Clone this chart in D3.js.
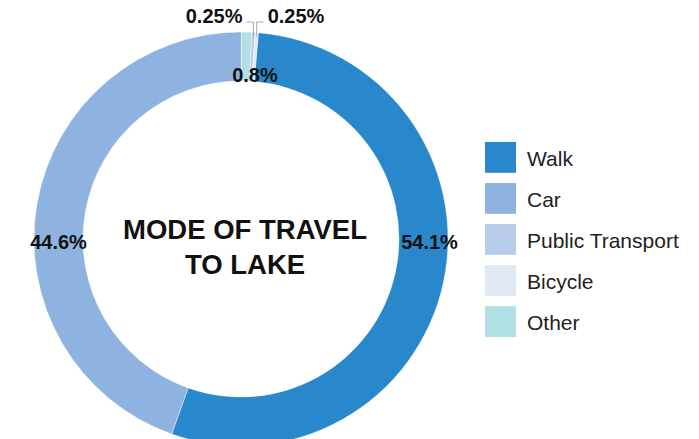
<!DOCTYPE html>
<html>
<head>
<meta charset="utf-8">
<script src="https://cdn.jsdelivr.net/npm/d3@7"></script>
<style>
  html, body { margin: 0; padding: 0; background: #fff; }
  svg { display: block; font-family: "Liberation Sans", Arial, Helvetica, sans-serif; }
</style>
</head>
<body>
<svg id="chart" width="699" height="439"></svg>
<script>
const categories = ["Walk", "Car", "Public Transport", "Bicycle", "Other"];
const values = [54.1, 44.6, 0.25, 0.25, 0.8];
const labels = ["54.1%", "44.6%", "0.25%", "0.25%", "0.8%"];
const colors = ["#2888cb", "#8fb3e0", "#b7cbea", "#e2e9f6", "#b0e0e3"];
const titleLines = ["MODE OF TRAVEL", "TO LAKE"];

const svg = d3.select("#chart");
const cx = 241, cy = 239, R = 207, r = 158;
const startA = 4.8 * Math.PI / 180;

const data = categories.map((c, i) => ({ cat: c, value: values[i], label: labels[i], color: colors[i] }));
const pie = d3.pie().value(d => d.value).sort((a, b) => b.value - a.value)
  .startAngle(startA).endAngle(startA + 2 * Math.PI);
const arcs = pie(data);
const arc = d3.arc().innerRadius(r).outerRadius(R);

const g = svg.append("g").attr("transform", `translate(${cx},${cy})`);
g.selectAll("path.slice").data(arcs).enter().append("path")
  .attr("class", "slice")
  .attr("d", arc)
  .attr("fill", d => d.data.color)
  .attr("stroke", "#fff").attr("stroke-width", 0.4);

const labelSize = 20;
const mid = (r + R) / 2 + 3;
function contains(d, ang) {
  const s = d.startAngle, e = d.endAngle;
  for (let k = -1; k <= 1; k++) { const t = ang + k * 2 * Math.PI; if (t >= s && t <= e) return true; }
  return false;
}
const small = arcs.filter(d => d.data.value < 0.5).sort((a, b) => a.startAngle - b.startAngle);
arcs.forEach(d => {
  if (d.data.value >= 10) {
    let ang = (d.startAngle + d.endAngle) / 2;
    if (contains(d, Math.PI / 2)) ang = Math.PI / 2;
    else if (contains(d, 3 * Math.PI / 2)) ang = 3 * Math.PI / 2;
    const x = mid * Math.sin(ang) + 3, y = -mid * Math.cos(ang) + 3;
    g.append("text").attr("x", x).attr("y", y)
      .attr("text-anchor", "middle").attr("dominant-baseline", "central")
      .attr("font-size", labelSize).attr("font-weight", "bold").attr("fill", "#111")
      .text(d.data.label);
  } else if (d.data.value >= 0.5) {
    const c = arc.centroid(d);
    g.append("text").attr("x", c[0] + 9).attr("y", -r - 6)
      .attr("text-anchor", "middle").attr("dominant-baseline", "central")
      .attr("font-size", labelSize).attr("font-weight", "bold").attr("fill", "#111")
      .text(d.data.label);
  }
});
small.forEach((d, i) => {
  const ang = (d.startAngle + d.endAngle) / 2;
  const x0 = R * Math.sin(ang), y0 = -R * Math.cos(ang) + 4;
  const yl = -R - 10;
  const side = i === 0 ? -1 : 1;
  const x1 = x0 + side * 7;
  g.append("polyline")
    .attr("points", `${x0},${y0} ${x0},${yl} ${x1},${yl}`)
    .attr("fill", "none").attr("stroke", "#aaa").attr("stroke-width", 1);
  g.append("text").attr("x", x1 + side * 4).attr("y", yl - 6)
    .attr("text-anchor", side < 0 ? "end" : "start").attr("dominant-baseline", "central")
    .attr("font-size", labelSize).attr("font-weight", "bold").attr("fill", "#111")
    .text(d.data.label);
});

// center title
g.selectAll("text.title").data(titleLines).enter().append("text")
  .attr("class", "title")
  .attr("x", 4).attr("y", (d, i) => -10 + i * 35)
  .attr("text-anchor", "middle").attr("dominant-baseline", "central")
  .attr("font-size", 27.5).attr("font-weight", "bold").attr("fill", "#111")
  .text(d => d);

// legend
const ly = d3.scaleBand().domain(categories).range([142, 337]).paddingInner(0.25);
const leg = svg.append("g");
categories.forEach((c, i) => {
  leg.append("rect").attr("x", 485).attr("y", ly(c)).attr("width", 31).attr("height", ly.bandwidth())
    .attr("fill", colors[i]);
  leg.append("text").attr("x", 527).attr("y", ly(c) + ly.bandwidth() / 2 + 1)
    .attr("dominant-baseline", "central").attr("font-size", 21).attr("fill", "#222")
    .text(c);
});
</script>
</body>
</html>
